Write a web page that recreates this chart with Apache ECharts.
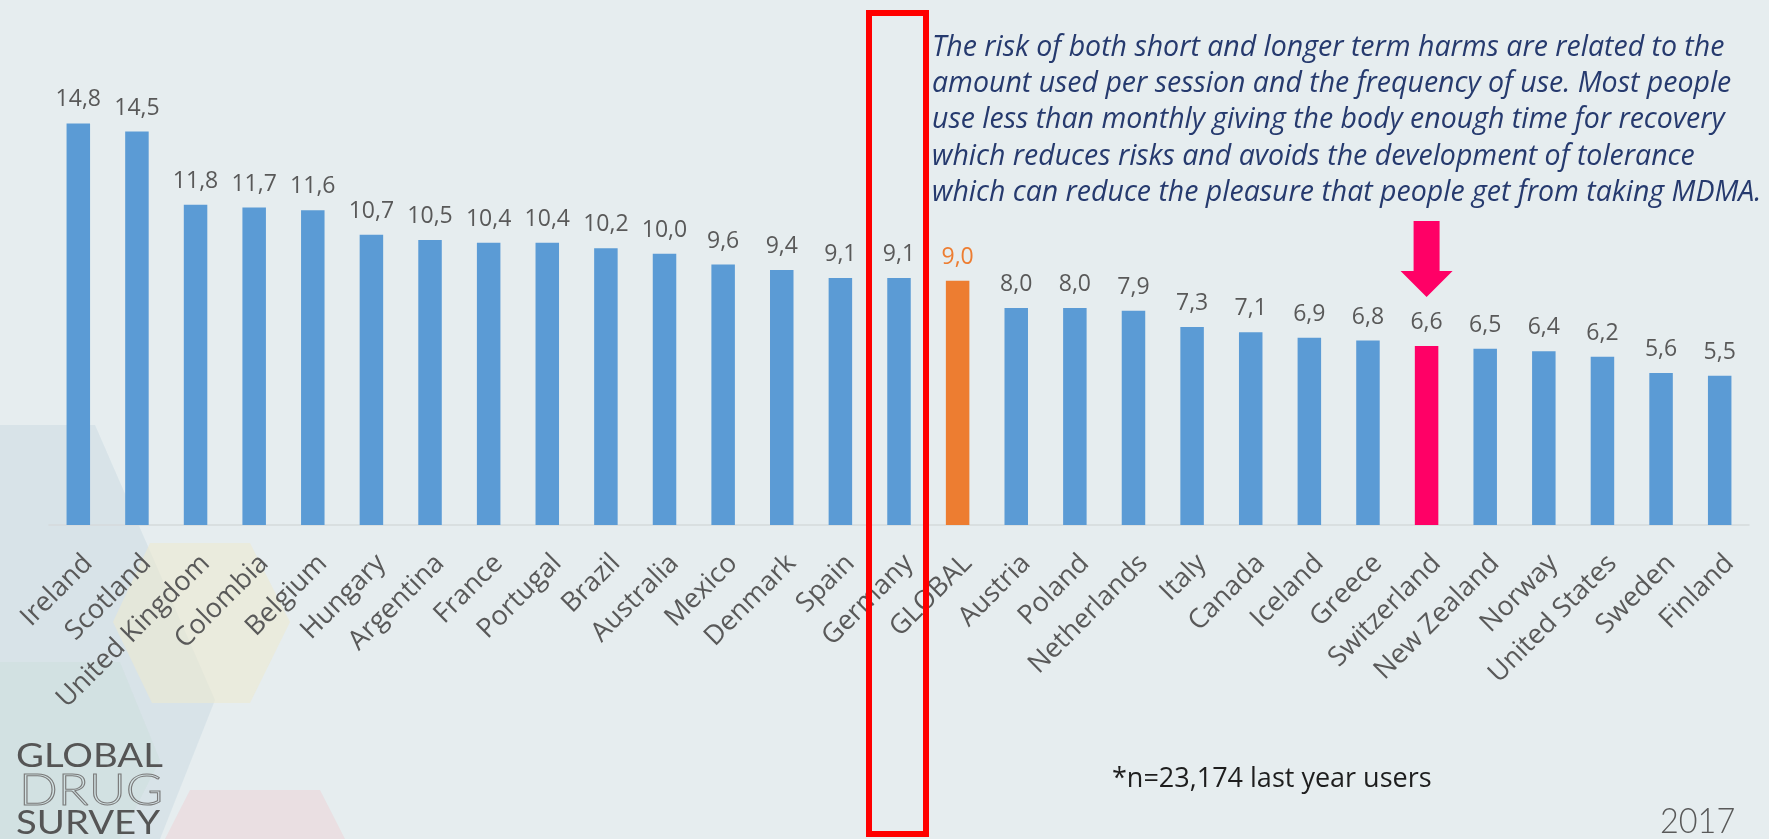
<!DOCTYPE html>
<html>
<head>
<meta charset="utf-8">
<title>MDMA last year use by country</title>
<script src="https://cdn.jsdelivr.net/npm/echarts@6/dist/echarts.min.js"></script>
<style>
  html, body { margin: 0; padding: 0; background: #E6EDEF; }
  #chart { width: 1769px; height: 839px; }
</style>
</head>
<body>
<div id="chart"></div>
<script>
// data
var countries = ['Ireland', 'Scotland', 'United Kingdom', 'Colombia', 'Belgium', 'Hungary', 'Argentina',
  'France', 'Portugal', 'Brazil', 'Australia', 'Mexico', 'Denmark', 'Spain', 'Germany', 'GLOBAL',
  'Austria', 'Poland', 'Netherlands', 'Italy', 'Canada', 'Iceland', 'Greece', 'Switzerland',
  'New Zealand', 'Norway', 'United States', 'Sweden', 'Finland'];
var values = [14.8, 14.5, 11.8, 11.7, 11.6, 10.7, 10.5, 10.4, 10.4, 10.2, 10.0, 9.6, 9.4, 9.1, 9.1, 9.0,
  8.0, 8.0, 7.9, 7.3, 7.1, 6.9, 6.8, 6.6, 6.5, 6.4, 6.2, 5.6, 5.5];
var noteLines = [
  'The risk of both short and longer term harms are related to the',
  'amount used per session and the frequency of use. Most people',
  'use less than monthly giving the body enough time for recovery',
  'which reduces risks and avoids the development of tolerance',
  'which can reduce the pleasure that people get from taking MDMA.'
];
var footnote = '*n=23,174 last year users';
var year = '2017';

var BLUE = '#5B9BD5', ORANGE = '#ED7D31', PINK = '#FF0066';
var barColor = { 'GLOBAL': ORANGE, 'Switzerland': PINK };

var chart = echarts.init(document.getElementById('chart'));

var barData = values.map(function (v, i) {
  var c = barColor[countries[i]] || BLUE;
  return {
    value: v,
    itemStyle: { color: c },
    label: { color: countries[i] === 'GLOBAL' ? ORANGE : '#595959' }
  };
});

// faint hexagon shapes of the slide background
var deco = [
  { pts: [[0, 425], [95, 425], [215, 700], [160, 839], [0, 839]], fill: 'rgba(190,210,222,0.35)' },
  { pts: [[150, 543], [250, 543], [290, 622], [250, 703], [152, 703], [113, 622]], fill: 'rgba(236,234,208,0.6)' },
  { pts: [[0, 662], [120, 662], [160, 760], [120, 839], [0, 839]], fill: 'rgba(200,222,214,0.35)' },
  { pts: [[190, 790], [320, 790], [345, 839], [165, 839]], fill: 'rgba(236,214,216,0.6)' }
];
var graphics = deco.map(function (d) {
  return { type: 'polygon', silent: true, z: -10, shape: { points: d.pts }, style: { fill: d.fill } };
});

noteLines.forEach(function (t, i) {
  graphics.push({
    type: 'text', left: 932, top: 33 + i * 36.4,
    style: { text: t, fill: '#263A6E', font: 'italic 28.5px "Open Sans"' }
  });
});
graphics.push({
  type: 'text', left: 1112, top: 766,
  style: { text: footnote, fill: '#1E1E1E', font: '27px "Open Sans"' }
});
graphics.push({
  type: 'text', x: 1660, y: 803, scaleX: 0.9,
  style: { text: year, fill: '#595959', font: '300 36px "Lato"' }
});
// logo
graphics.push({ type: 'text', x: 16, y: 740, scaleX: 1.16, style: { text: 'GLOBAL', fill: '#555555', font: '33px "Lato"' } });
graphics.push({ type: 'text', x: 19, y: 769, scaleX: 1.16, style: { text: 'DRUG', fill: 'none', stroke: '#7A7A7A', lineWidth: 1, font: '300 44px "Lato"' } });
graphics.push({ type: 'text', x: 16, y: 807, scaleX: 1.16, style: { text: 'SURVEY', fill: '#555555', font: '33px "Lato"' } });

var option = {
  backgroundColor: '#E6EDEF',
  animation: false,
  grid: { left: 49, right: 20, top: 118, bottom: 314 },
  xAxis: {
    type: 'category',
    data: countries,
    axisTick: { show: false },
    axisLine: { lineStyle: { color: '#D5DADC', width: 1.5 } },
    axisLabel: {
      interval: 0,
      rotate: 45,
      margin: 44,
      padding: [0, -14, 0, 0],
      color: '#595959',
      fontSize: 27,
      fontFamily: 'Open Sans'
    }
  },
  yAxis: {
    type: 'value',
    min: 0,
    max: 15,
    show: false
  },
  series: [{
    type: 'bar',
    barWidth: 23.5,
    data: barData,
    label: {
      show: true,
      position: 'top',
      distance: 12,
      fontSize: 23,
      fontFamily: 'Open Sans',
      formatter: function (p) { return p.value.toFixed(1).replace('.', ','); }
    }
  }],
  graphic: graphics
};
chart.setOption(option);

// highlight box round Germany and arrow over Switzerland, placed from the axis
var gx = chart.convertToPixel({ xAxisIndex: 0 }, 'Germany');
var sx = chart.convertToPixel({ xAxisIndex: 0 }, 'Switzerland');
chart.setOption({
  graphic: graphics.concat([
    {
      type: 'rect', z: 100,
      shape: { x: gx - 30, y: 13, width: 57, height: 821 },
      style: { fill: 'none', stroke: '#FF0000', lineWidth: 6 }
    },
    {
      type: 'polygon', z: 100,
      shape: { points: [[sx - 13, 221], [sx + 13, 221], [sx + 13, 271], [sx + 26, 271],
                        [sx, 297], [sx - 26, 271], [sx - 13, 271]] },
      style: { fill: PINK }
    }
  ])
});
</script>
</body>
</html>
